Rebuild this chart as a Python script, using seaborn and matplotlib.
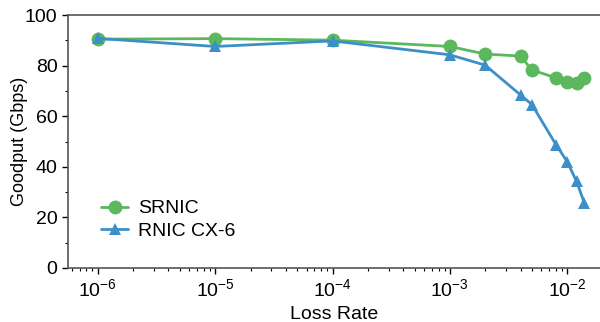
import numpy as np
import pandas as pd
import matplotlib
matplotlib.use("Agg")
import matplotlib.pyplot as plt
import seaborn as sns
from matplotlib.ticker import LogLocator, MultipleLocator

# Loss rates and goodput
srnic_loss = [1e-6, 1e-5, 1e-4, 1e-3, 2e-3, 4e-3, 5e-3, 8e-3, 1e-2, 1.2e-2, 1.4e-2]
srnic_goodput = [90.5, 90.7, 90.1, 87.6, 84.6, 83.8, 78.3, 75.2, 73.4, 73.2, 75.1]

cx6_loss = [1e-6, 1e-5, 1e-4, 1e-3, 2e-3, 4e-3, 5e-3, 8e-3, 1e-2, 1.2e-2, 1.4e-2]
cx6_goodput = [90.8, 87.6, 89.8, 84.3, 80.2, 68.4, 64.6, 48.8, 42.0, 34.2, 25.6]

series_names = ["SRNIC", "RNIC CX-6"]
colors = ["#5cb85c", "#3d8fc8"]
marker_sizes = [10, 8.5]

df = pd.concat([
    pd.DataFrame({"loss": srnic_loss, "goodput": srnic_goodput, "system": series_names[0]}),
    pd.DataFrame({"loss": cx6_loss, "goodput": cx6_goodput, "system": series_names[1]}),
])

sns.set_style("ticks")
plt.rcParams["font.family"] = ["Liberation Sans", "DejaVu Sans"]
plt.rcParams.update({"text.color": "black", "axes.labelcolor": "black",
                     "xtick.color": "black", "ytick.color": "black"})

fig = plt.figure(figsize=(6, 3.22), dpi=100)
ax = fig.add_axes([0.113, 0.168, 0.887, 0.785])

sns.lineplot(data=df, x="loss", y="goodput", hue="system", style="system",
             markers=["o", "^"], dashes=False, palette=colors,
             linewidth=2, markeredgewidth=0, ax=ax)
for line, ms in zip(ax.lines, marker_sizes):
    line.set_markersize(ms)

ax.set_xscale("log")
ax.set_xlim(5.55e-7, 1.9e-2)
ax.set_ylim(0, 100)
ax.yaxis.set_major_locator(MultipleLocator(20))
ax.yaxis.set_minor_locator(MultipleLocator(10))
ax.xaxis.set_major_locator(LogLocator(base=10, numticks=10))
ax.xaxis.set_minor_locator(LogLocator(base=10, subs=np.arange(2, 10), numticks=20))
ax.tick_params(axis="both", which="major", labelsize=14, length=4, width=1)
ax.tick_params(axis="both", which="minor", length=2, width=0.8)

ax.set_xlabel("Loss Rate", fontsize=14)
ax.set_ylabel("Goodput (Gbps)", fontsize=13)
ax.yaxis.set_label_coords(-0.075, 0.5)

for side in ["left", "bottom", "top"]:
    ax.spines[side].set_color("#555555")
    ax.spines[side].set_linewidth(1.2)
ax.spines["right"].set_visible(False)

leg = ax.legend(loc="lower left", bbox_to_anchor=(0.03, 0.042), frameon=False,
                fontsize=14, handlelength=1.4, handletextpad=0.5, labelspacing=0.25)
for h, ms in zip(leg.legend_handles, marker_sizes):
    h.set_markersize(ms)

fig.savefig("out.png", dpi=100)
